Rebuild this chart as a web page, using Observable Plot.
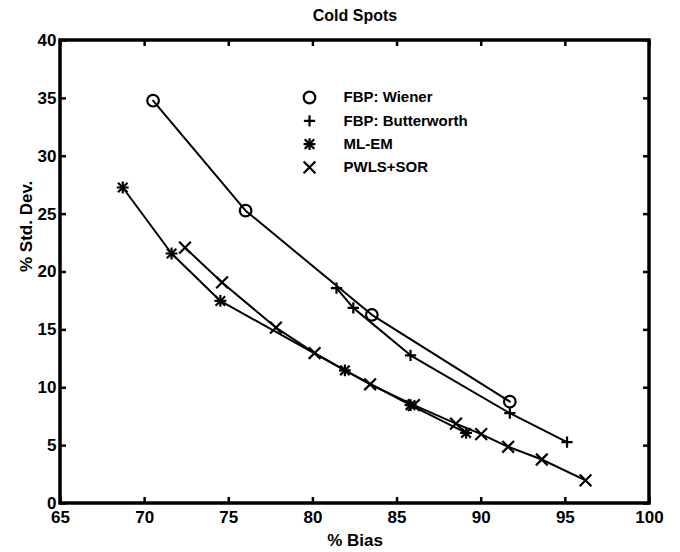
<!DOCTYPE html>
<html>
<head>
<meta charset="utf-8">
<script src="https://cdn.jsdelivr.net/npm/d3@7"></script>
<script src="https://cdn.jsdelivr.net/npm/@observablehq/plot@0.6"></script>
<style>
  html, body { margin: 0; padding: 0; background: #fff; }
  #chart svg { display: block; }
</style>
</head>
<body>
<div id="chart"></div>
<script>
// ---- data ----
const wienerBias = [70.5, 76.0, 83.5, 91.7];
const wienerStd  = [34.8, 25.3, 16.3, 8.8];
const butterBias = [81.4, 82.4, 85.8, 91.7, 95.1];
const butterStd  = [18.6, 16.9, 12.8, 7.8, 5.3];
const mlemBias   = [68.7, 71.6, 74.5, 81.9, 85.8, 89.1];
const mlemStd    = [27.3, 21.6, 17.5, 11.5, 8.5, 6.1];
const pwlsBias   = [72.4, 74.6, 77.8, 80.1, 83.4, 86.0, 88.5, 90.0, 91.6, 93.6, 96.2];
const pwlsStd    = [22.1, 19.1, 15.2, 13.0, 10.3, 8.5, 6.9, 6.0, 4.9, 3.8, 2.0];
const seriesNames = ["FBP: Wiener", "FBP: Butterworth", "ML-EM", "PWLS+SOR"];
const xTicks = [65, 70, 75, 80, 85, 90, 95, 100];
const yTicks = [0, 5, 10, 15, 20, 25, 30, 35, 40];
const titleText = "Cold Spots";
const xLabel = "% Bias";
const yLabel = "% Std. Dev.";

const zip = (xs, ys) => xs.map((x, i) => ({x, y: ys[i]}));
const wiener = zip(wienerBias, wienerStd);
const butter = zip(butterBias, butterStd);
const mlem = zip(mlemBias, mlemStd);
const pwls = zip(pwlsBias, pwlsStd);

const font = "Liberation Sans, Arial, Helvetica, sans-serif";
const lineOpts = {x: "x", y: "y", stroke: "black", strokeWidth: 2};

const markerLayers = [
  [{symbol: "circle", r: 5.8}],
  [{symbol: "plus", r: 3.7}],
  [{symbol: "plus", r: 3.9}, {symbol: "times", r: 4.4}],
  [{symbol: "times", r: 5.4}]
];
const seriesData = [wiener, butter, mlem, pwls];

const marks = [];
seriesData.forEach(d => marks.push(Plot.line(d, lineOpts)));
seriesData.forEach((d, i) => markerLayers[i].forEach(m =>
  marks.push(Plot.dot(d, {x: "x", y: "y", symbol: () => m.symbol, r: m.r, stroke: "black", strokeWidth: 2.2, fill: "none"}))
));
// legend
seriesNames.forEach((name, i) => {
  markerLayers[i].forEach(m =>
    marks.push(Plot.dot([name], {frameAnchor: "top-left", dx: 249, dy: 57 + i * 23.3, symbol: () => m.symbol, r: m.r, stroke: "black", strokeWidth: 2.2, fill: "none"}))
  );
  marks.push(Plot.text([name], {frameAnchor: "top-left", dx: 283, dy: 57 + i * 23.3, text: d => d, textAnchor: "start", lineAnchor: "middle", fontSize: 15, fontWeight: "bold", fontFamily: font, fill: "black"}));
});
// inward ticks on all four sides, drawn as short rules from the tick arrays
const tk = {stroke: "black", strokeWidth: 2.5};
marks.push(Plot.tickX(xTicks, {...tk, x: d => d, insetTop: 457}));
marks.push(Plot.tickX(xTicks, {...tk, x: d => d, insetBottom: 457}));
marks.push(Plot.tickY(yTicks, {...tk, y: d => d, insetRight: 583}));
marks.push(Plot.tickY(yTicks, {...tk, y: d => d, insetLeft: 583}));
// frame
marks.push(Plot.rect([0], {x1: 65, x2: 100, y1: 0, y2: 40, fill: "none", stroke: "black", strokeWidth: 3.5}));
// tick labels
marks.push(Plot.axisX(xTicks, {anchor: "bottom", tickSize: 0, tickPadding: 7, label: null, fontSize: 17, fontWeight: "bold", fontFamily: font}));
marks.push(Plot.axisY(yTicks, {anchor: "left", tickSize: 0, tickPadding: 4, label: null, fontSize: 17, fontWeight: "bold", fontFamily: font}));
// titles
marks.push(Plot.text([titleText], {frameAnchor: "top", dy: -25, text: d => d, lineAnchor: "middle", fontSize: 16, fontWeight: "bold", fontFamily: font, fill: "black"}));
marks.push(Plot.text([xLabel], {frameAnchor: "bottom", dy: 37, text: d => d, lineAnchor: "middle", fontSize: 17, fontWeight: "bold", fontFamily: font, fill: "black"}));
marks.push(Plot.text([yLabel], {frameAnchor: "left", dx: -34, rotate: -90, text: d => d, lineAnchor: "middle", fontSize: 17, fontWeight: "bold", fontFamily: font, fill: "black"}));

const chart = Plot.plot({
  width: 680,
  height: 552,
  marginLeft: 60,
  marginRight: 31,
  marginTop: 40,
  marginBottom: 49,
  x: {domain: [65, 100], axis: null},
  y: {domain: [0, 40], axis: null},
  style: {fontFamily: font, fontWeight: "bold", background: "white", color: "black"},
  marks
});
document.getElementById("chart").appendChild(chart);
</script>
</body>
</html>
